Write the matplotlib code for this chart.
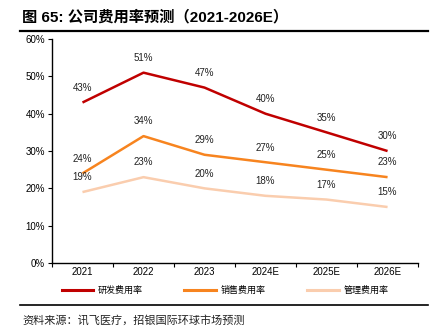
import matplotlib.pyplot as plt
from matplotlib.lines import Line2D

plt.rcParams['font.family'] = ['Liberation Sans', 'Noto Sans CJK SC', 'DejaVu Sans']

years = ["2021", "2022", "2023", "2024E", "2025E", "2026E"]
rd_rate = [43, 51, 47, 40, 35, 30]
sales_rate = [24, 34, 29, 27, 25, 23]
admin_rate = [19, 23, 20, 18, 17, 15]
series_names = ["研发费用率", "销售费用率", "管理费用率"]
colors = ["#C00000", "#F7841F", "#FACDAE"]

fig = plt.figure(figsize=(4.31, 3.34), dpi=100)
ax = fig.add_axes([0.1206, 0.2126, 0.8494, 0.6704])

x = list(range(len(years)))
for vals, name, c in zip([rd_rate, sales_rate, admin_rate], series_names, colors):
    ax.plot(x, vals, color=c, lw=1.8, solid_capstyle="butt")
    for xi, v in zip(x, vals):
        ax.annotate(f"{v:.0f}%", (xi, v), xytext=(0, 7), textcoords="offset points",
                    ha="center", va="bottom", fontsize=7, color="#222222")

ax.set_xlim(-0.5, len(years) - 0.5)
ax.set_ylim(0, 60)
ax.set_yticks(range(0, 61, 10))
ax.set_yticklabels([f"{v}%" for v in range(0, 61, 10)])
ax.set_xticks([i - 0.5 for i in range(len(years) + 1)])
ax.set_xticklabels([])
ax.set_xticks(x, minor=True)
ax.set_xticklabels(years, minor=True)
ax.tick_params(axis="x", which="minor", length=0, pad=3, labelsize=7)
ax.tick_params(axis="x", which="major", length=3, width=0.8, direction="out")
ax.tick_params(axis="y", length=3, width=0.8, labelsize=7, pad=2)
for s in ["top", "right"]:
    ax.spines[s].set_visible(False)
ax.spines["left"].set_linewidth(1.0)
ax.spines["bottom"].set_linewidth(1.0)

# title and rules
fig.text(0.051, 0.948, "图 65: 公司费用率预测（2021-2026E）", fontsize=11,
         fontweight="bold", ha="left", va="center")
fig.add_artist(Line2D([0.046, 0.993], [0.907, 0.907], color="black", lw=1.6))
fig.add_artist(Line2D([0.046, 0.993], [0.087, 0.087], color="black", lw=1.2))

# legend
handles = [Line2D([], [], color=c, lw=2.2) for c in colors]
fig.legend(handles, series_names, loc="center", bbox_to_anchor=(0.522, 0.131),
           ncol=3, frameon=False, fontsize=6.5, handlelength=3.5,
           columnspacing=4.6, handletextpad=0.5)

fig.text(0.051, 0.042, "资料来源：讯飞医疗，招银国际环球市场预测", fontsize=8,
         ha="left", va="center", color="#222222")

fig.savefig("out.png", dpi=100)
